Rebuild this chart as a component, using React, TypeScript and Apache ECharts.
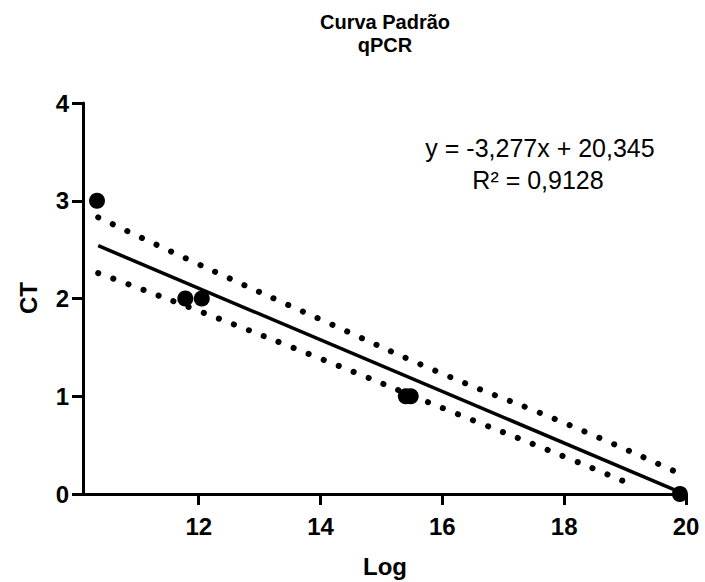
import React, { useEffect, useRef } from "react";
import * as echarts from "echarts";

const logValues = [10.33, 11.78, 12.05, 15.4, 15.48, 19.9];
const ctValues = [3, 2, 2, 1, 1, 0];
const fitX = [10.35, 19.9];
const fitY = [2.54, 0.02];
const upperX = [10.35, 11.93, 14.02, 16.08, 18.03, 19.84];
const upperY = [2.83, 2.37, 1.78, 1.21, 0.72, 0.225];
const lowerX = [10.35, 11.93, 14.02, 16.08, 18.03, 19.17];
const lowerY = [2.26, 1.89, 1.38, 0.86, 0.375, 0.08];
const xTicks = [12, 14, 16, 18, 20];
const titleLines = ["Curva Padrão", "qPCR"];
const equationText = "y = -3,277x + 20,345";
const r2Text = "R² = 0,9128";
const xName = "Log";
const yName = "CT";

const FONT = "'Liberation Sans', Arial, sans-serif";

const zip = (a: number[], b: number[]) => a.map((v, i) => [v, b[i]]);

export default function App() {
  const ref = useRef<HTMLDivElement>(null);
  useEffect(() => {
    if (!ref.current) return;
    const chart = echarts.init(ref.current, null, { renderer: "svg" });
    const dotted = {
      color: "#000",
      width: 6,
      type: [0.1, 16] as any,
      cap: "round" as const,
    };
    chart.setOption({
      animation: false,
      backgroundColor: "#fff",
      grid: { left: 83, right: 19, top: 103, bottom: 88, containLabel: false },
      xAxis: {
        type: "value",
        min: 10.1,
        max: 20,
        splitLine: { show: false },
        axisLine: { show: true, onZero: false, lineStyle: { color: "#000", width: 3 } },
        axisTick: { show: true, customValues: xTicks, length: 11, lineStyle: { color: "#000", width: 3 } },
        axisLabel: {
          customValues: xTicks,
          margin: 20,
          color: "#000",
          fontFamily: FONT,
          fontWeight: "bold",
          fontSize: 24,
        },
      },
      yAxis: {
        type: "value",
        min: 0,
        max: 4,
        interval: 1,
        splitLine: { show: false },
        axisLine: { show: true, onZero: false, lineStyle: { color: "#000", width: 3 } },
        axisTick: { show: true, length: 11, lineStyle: { color: "#000", width: 3 } },
        axisLabel: {
          margin: 14,
          color: "#000",
          fontFamily: FONT,
          fontWeight: "bold",
          fontSize: 24,
        },
      },
      series: [
        {
          type: "line",
          data: zip(upperX, upperY),
          smooth: true,
          symbol: "none",
          lineStyle: dotted,
        },
        {
          type: "line",
          data: zip(lowerX, lowerY),
          smooth: true,
          symbol: "none",
          lineStyle: dotted,
        },
        {
          type: "line",
          data: zip(fitX, fitY),
          symbol: "none",
          lineStyle: { color: "#000", width: 3.5 },
        },
        {
          type: "scatter",
          data: zip(logValues, ctValues),
          symbolSize: 16,
          itemStyle: { color: "#000", opacity: 1 },
          clip: false,
        },
      ],
      graphic: [
        {
          type: "text",
          x: 385,
          y: 22,
          style: { text: titleLines[0], font: `bold 20px ${FONT}`, fill: "#000", align: "center", verticalAlign: "middle" },
        },
        {
          type: "text",
          x: 385,
          y: 45,
          style: { text: titleLines[1], font: `bold 20px ${FONT}`, fill: "#000", align: "center", verticalAlign: "middle" },
        },
        {
          type: "text",
          x: 540,
          y: 148,
          style: { text: equationText, font: `25px ${FONT}`, fill: "#000", align: "center", verticalAlign: "middle" },
        },
        {
          type: "text",
          x: 538,
          y: 180,
          style: { text: r2Text, font: `25px ${FONT}`, fill: "#000", align: "center", verticalAlign: "middle" },
        },
        {
          type: "text",
          x: 28,
          y: 298,
          rotation: Math.PI / 2,
          style: { text: yName, font: `bold 24px ${FONT}`, fill: "#000", align: "center", verticalAlign: "middle" },
        },
        {
          type: "text",
          x: 385,
          y: 566,
          style: { text: xName, font: `bold 24px ${FONT}`, fill: "#000", align: "center", verticalAlign: "middle" },
        },
      ],
    });
    return () => chart.dispose();
  }, []);
  return (
    <div
      ref={ref}
      style={{ position: "fixed", left: 0, top: 0, width: 705, height: 582, background: "#fff" }}
    />
  );
}
